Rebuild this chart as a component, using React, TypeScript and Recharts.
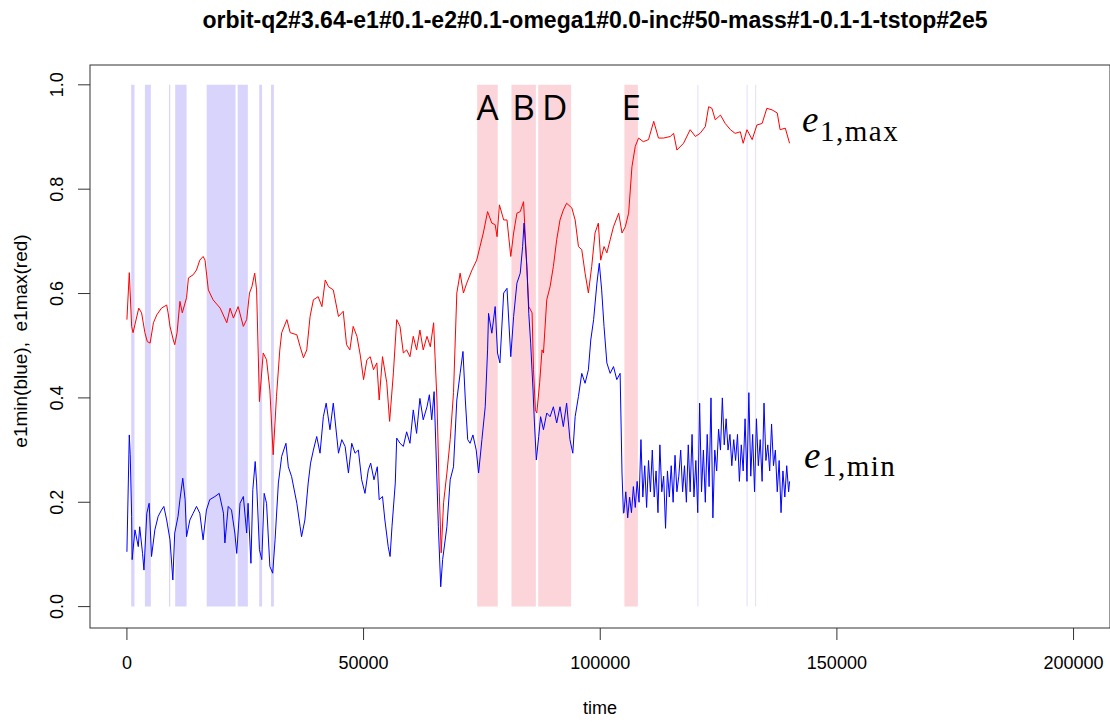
import React from 'react';
import {
  LineChart,
  Line,
  XAxis,
  YAxis,
  ReferenceArea,
} from 'recharts';

// sample times and values for e1max (red)
const maxT = [
  0, 500, 1000, 1300, 2500, 3100, 3800, 4300, 4900, 5600, 6300, 7300, 8400, 8700, 9100, 9800,
  10100, 10600, 11200, 11700, 12600, 13000, 14000, 14700, 15400, 16100, 16500, 17200, 18200,
  19700, 21100, 21800, 22500, 23500, 24600, 25300, 25900, 26400, 27000, 27400, 28000, 28800,
  29500, 30200, 30900, 31600, 32300, 32700, 33800, 34500, 35900, 36600, 37300, 38000, 38700,
  39400, 40400, 41200, 41900, 42600, 43600, 44700, 45700, 46400, 47100, 47800, 48600, 49300,
  50000, 50700, 51400, 52100, 52800, 53300, 54000, 54900, 55500, 56300, 57000, 57700, 58400,
  59100, 59800, 60500, 61200, 61900, 62600, 63400, 64100, 64800, 65100, 65500, 66000, 66400,
  66900, 67600, 68300, 69000, 69300, 69700, 70400, 71100, 71800, 72900, 73900, 74600, 75300,
  76200, 77100, 77800, 78200, 78700, 79600, 80300, 81100, 81700, 82400, 83100, 83800, 84100,
  84900, 85600, 85900, 86300, 86600, 87200, 87700, 88000, 88700, 89400, 90100, 90800, 91500,
  92200, 92900, 94000, 94700, 95400, 96100, 96800, 97500, 98200, 98900, 99600, 100100, 100800,
  101400, 102100, 102800, 103900, 104600, 105300, 106000, 106700, 107400, 108100, 109100,
  110200, 111300, 112300, 113400, 114800, 115500, 116200, 117600, 119000, 120100, 121100,
  122200, 122900, 123600, 124300, 125400, 126400, 127500, 128500, 129600, 130200, 131000,
  132100, 133100, 134200, 135200, 136300, 137400, 138000, 139100, 140000,
];
const maxV = [
  0.55, 0.64, 0.537, 0.525, 0.572, 0.563, 0.525, 0.508, 0.505, 0.544, 0.559, 0.572, 0.578, 0.563,
  0.537, 0.511, 0.502, 0.525, 0.585, 0.563, 0.592, 0.63, 0.636, 0.645, 0.664, 0.671, 0.664, 0.607,
  0.588, 0.572, 0.544, 0.572, 0.553, 0.575, 0.537, 0.55, 0.601, 0.613, 0.639, 0.607, 0.393, 0.486,
  0.473, 0.415, 0.291, 0.403, 0.492, 0.525, 0.55, 0.525, 0.521, 0.498, 0.477, 0.492, 0.556,
  0.588, 0.594, 0.575, 0.626, 0.613, 0.607, 0.556, 0.566, 0.502, 0.492, 0.537, 0.518, 0.482,
  0.435, 0.473, 0.479, 0.454, 0.467, 0.396, 0.479, 0.429, 0.355, 0.448, 0.55, 0.537, 0.486,
  0.492, 0.479, 0.518, 0.492, 0.53, 0.492, 0.518, 0.498, 0.544, 0.479, 0.396, 0.218, 0.103,
  0.199, 0.256, 0.32, 0.41, 0.492, 0.601, 0.639, 0.601, 0.62, 0.645, 0.664, 0.69, 0.716,
  0.757, 0.735, 0.732, 0.709, 0.77, 0.741, 0.741, 0.671, 0.716, 0.754, 0.757, 0.776, 0.722,
  0.575, 0.563, 0.454, 0.377, 0.371, 0.429, 0.492, 0.486, 0.588, 0.613, 0.652, 0.703, 0.741,
  0.76, 0.773, 0.764, 0.741, 0.69, 0.684, 0.639, 0.601, 0.652, 0.716, 0.735, 0.664, 0.69,
  0.678, 0.703, 0.728, 0.754, 0.716, 0.728, 0.754, 0.843, 0.882, 0.898, 0.891,
  0.895, 0.93, 0.898, 0.898, 0.901, 0.907, 0.875, 0.888, 0.914, 0.901, 0.907,
  0.92, 0.958, 0.955, 0.933, 0.942, 0.926, 0.914, 0.907, 0.91, 0.888, 0.914,
  0.895, 0.923, 0.926, 0.955, 0.952, 0.946, 0.914, 0.917, 0.888,
];

// sample times and values for e1min (blue)
const minT = [
  0, 500, 700, 1000, 1100, 1700, 2400, 2700, 3300, 3600, 4200, 4700, 5200, 5900, 6600, 7300, 7800,
  8400, 9100, 9700, 10100, 10800, 11200, 11800, 12300, 12600, 13300, 14000, 14700, 15400, 16100,
  16800, 17500, 18600, 19500, 20400, 20700, 21400, 22100, 22800, 23200, 23900, 24600, 25300,
  25600, 26200, 26600, 27100, 27400, 28000, 28500, 29000, 29500, 30200, 30800, 31300, 32000,
  32700, 33600, 34100, 34800, 35900, 36600, 36900, 37600, 38300, 38800, 39400, 40100, 40800,
  41500, 42100, 42900, 43600, 44700, 45400, 46100, 46800, 47500, 48200, 48900, 49600, 50300,
  51000, 51500, 52200, 52900, 53300, 54000, 54500, 55200, 55600, 56000, 56700, 57000, 57700,
  58400, 59100, 59800, 60500, 61200, 61900, 62600, 63400, 63900, 64400, 64900, 65300, 65800,
  66300, 66700, 67600, 68300, 69000, 69700, 70400, 71000, 71500, 72000, 72500, 73100, 73800,
  74300, 75000, 75700, 76200, 76400, 77100, 77800, 78300, 78800, 79600, 80300, 81100, 81700,
  82400, 83100, 83600, 83900, 84500, 84900, 85300, 85800, 86100, 86500, 87000, 87400, 88000,
  88700, 89400, 90100, 90800, 91500, 92200, 92900, 93600, 94200, 94700, 95400, 96100, 96800,
  97500, 98000, 98600, 99300, 99800, 100300, 100800, 101400, 102100, 102800, 103500, 104200,
  104600, 104900, 105000, 105400, 105800, 106200, 106600, 107000, 107400, 107800, 108200,
  108600, 109000, 109400, 109800, 110200, 110600, 111000, 111400, 111800, 112200, 112600,
  113000, 113400, 113800, 114200, 114600, 115000, 115400, 115800, 116200, 116600, 117000,
  117400, 117800, 118200, 118600, 119000, 119400, 119800, 120200, 120600, 121000, 121400,
  121800, 122200, 122600, 123000, 123400, 123800, 124200, 124600, 125000, 125400, 125800,
  126200, 126600, 127000, 127400, 127800, 128200, 128600, 129000, 129400, 129800, 130200,
  130600, 131000, 131400, 131800, 132200, 132600, 133000, 133400, 133800, 134200, 134600,
  135000, 135400, 135800, 136200, 136600, 137000, 137400, 137800, 138200, 138600, 139000,
  139400, 139800, 140000,
];
const minV = [
  0.105, 0.329, 0.291, 0.173, 0.09, 0.147, 0.115, 0.153, 0.102, 0.07, 0.179, 0.198, 0.096, 0.147,
  0.173, 0.185, 0.192, 0.166, 0.128, 0.051, 0.141, 0.173, 0.205, 0.246, 0.205, 0.134, 0.166,
  0.179, 0.192, 0.179, 0.128, 0.185, 0.205, 0.211, 0.217, 0.179, 0.122, 0.192, 0.185, 0.141,
  0.102, 0.198, 0.211, 0.141, 0.198, 0.083, 0.224, 0.278, 0.237, 0.109, 0.09, 0.217, 0.198,
  0.077, 0.064, 0.128, 0.237, 0.288, 0.313, 0.268, 0.249, 0.198, 0.153, 0.134, 0.166, 0.237,
  0.275, 0.3, 0.326, 0.294, 0.364, 0.39, 0.339, 0.39, 0.294, 0.32, 0.307, 0.256, 0.313, 0.294,
  0.3, 0.243, 0.217, 0.262, 0.275, 0.243, 0.268, 0.205, 0.211, 0.166, 0.115, 0.096, 0.153,
  0.237, 0.323, 0.313, 0.307, 0.335, 0.313, 0.377, 0.332, 0.399, 0.358, 0.383, 0.406, 0.358,
  0.412, 0.3, 0.153, 0.038, 0.09, 0.153, 0.243, 0.268, 0.396, 0.447, 0.489, 0.396, 0.32,
  0.313, 0.329, 0.3, 0.256, 0.32, 0.383, 0.492, 0.562, 0.524, 0.575, 0.486, 0.467, 0.601,
  0.61, 0.479, 0.556, 0.62, 0.639, 0.69, 0.735, 0.652, 0.562, 0.505, 0.415, 0.352, 0.281,
  0.326, 0.364, 0.339, 0.371, 0.364, 0.383, 0.352, 0.383, 0.345, 0.39, 0.32, 0.294, 0.364,
  0.403, 0.447, 0.428, 0.454, 0.511, 0.55, 0.62, 0.658, 0.607, 0.537, 0.467, 0.447, 0.46,
  0.435, 0.447, 0.256, 0.179, 0.18, 0.22, 0.17, 0.21, 0.18, 0.23, 0.19, 0.24, 0.2, 0.32, 0.21,
  0.27, 0.19, 0.28, 0.22, 0.3, 0.21, 0.26, 0.18, 0.31, 0.22, 0.25, 0.15, 0.26, 0.21, 0.27, 0.2,
  0.29, 0.22, 0.25, 0.3, 0.22, 0.27, 0.2, 0.31, 0.22, 0.33, 0.21, 0.28, 0.18, 0.39, 0.22, 0.3,
  0.2, 0.33, 0.23, 0.4, 0.17, 0.3, 0.26, 0.34, 0.3, 0.4, 0.31, 0.36, 0.3, 0.33, 0.27, 0.32,
  0.28, 0.33, 0.24, 0.31, 0.26, 0.36, 0.24, 0.41, 0.25, 0.33, 0.22, 0.36, 0.27, 0.32, 0.24,
  0.39, 0.28, 0.31, 0.26, 0.35, 0.27, 0.3, 0.22, 0.28, 0.18, 0.26, 0.21, 0.27, 0.22, 0.24,
];

// shaded time windows
const blueStart = [900, 3800, 8900, 10200, 16850, 23400, 27950, 30450];
const blueEnd = [1600, 5050, 9150, 12600, 22950, 25550, 28550, 31050];
const faintStart = [120500, 130900, 132700];
const faintEnd = [120750, 131150, 132950];
const pinkStart = [74000, 81250, 86900, 105100];
const pinkEnd = [78350, 86400, 93850, 107950];
const pinkLabels = ['A', 'B', 'D', 'E'];

const xTicks = [0, 50000, 100000, 150000, 200000];
const yTicks = [0, 0.2, 0.4, 0.6, 0.8, 1.0];

const maxData = maxT.map((t, i) => ({ t, v: maxV[i] }));
const minData = minT.map((t, i) => ({ t, v: minV[i] }));

const SANS = 'Liberation Sans, Arial, sans-serif';
const SERIF = 'Liberation Serif, Times New Roman, serif';

const YTick = (props: any) => {
  const { x, y, payload } = props;
  return (
    <text
      x={x}
      y={y}
      transform={`rotate(-90 ${x} ${y})`}
      textAnchor='middle'
      fontSize={18}
      fontFamily={SANS}
      fill='#000'
    >
      {Number(payload.value).toFixed(1)}
    </text>
  );
};

const XTick = (props: any) => {
  const { x, y, payload } = props;
  return (
    <text x={x} y={y + 13} textAnchor='middle' fontSize={18} fontFamily={SANS} fill='#000'>
      {payload.value}
    </text>
  );
};

export default function App() {
  return (
    <div style={{ position: 'absolute', left: 0, top: 0, background: '#fff' }}>
      <LineChart
        width={1110}
        height={722}
        margin={{ top: 65, right: 0, bottom: 54, left: 30 }}
      >
        <XAxis
          type='number'
          dataKey='t'
          domain={[-7800, 207700]}
          ticks={xTicks}
          allowDataOverflow
          axisLine={false}
          tickSize={12}
          tickLine={{ stroke: '#333' }}
          tickMargin={16}
          tick={<XTick />}
          height={40}
        />
        <YAxis
          type='number'
          domain={[-0.041, 1.038]}
          ticks={yTicks}
          allowDataOverflow
          axisLine={false}
          tickSize={12}
          tickLine={{ stroke: '#333' }}
          tickMargin={15}
          tick={<YTick />}
          width={60}
        />
        {blueStart.map((s, i) => (
          <ReferenceArea
            key={'b' + i}
            x1={s}
            x2={blueEnd[i]}
            y1={0}
            y2={1}
            fill='#d9d4fb'
            fillOpacity={1}
            stroke='none'
          />
        ))}
        {faintStart.map((s, i) => (
          <ReferenceArea
            key={'f' + i}
            x1={s}
            x2={faintEnd[i]}
            y1={0}
            y2={1}
            fill='#e6e3fb'
            fillOpacity={1}
            stroke='none'
          />
        ))}
        {pinkStart.map((s, i) => (
          <ReferenceArea
            key={'p' + i}
            x1={s}
            x2={pinkEnd[i]}
            y1={0}
            y2={1}
            fill='#fcd5db'
            fillOpacity={1}
            stroke='none'
            label={{
              value: pinkLabels[i],
              position: 'insideTop',
              offset: 10,
              fontSize: 35,
              fill: '#000',
              fontFamily: 'Open Sans, sans-serif',
            }}
          />
        ))}
        <Line
          data={maxData}
          dataKey='v'
          stroke='#ff0000'
          strokeWidth={1}
          dot={false}
          isAnimationActive={false}
        />
        <Line
          data={minData}
          dataKey='v'
          stroke='#0000ff'
          strokeWidth={1}
          dot={false}
          isAnimationActive={false}
        />
        <rect x={90} y={65} width={1020} height={563} fill='none' stroke='#333' />
        <text x={595} y={28} textAnchor='middle' fontSize={23} fontWeight='bold' fontFamily={SANS}>
          orbit-q2#3.64-e1#0.1-e2#0.1-omega1#0.0-inc#50-mass#1-0.1-1-tstop#2e5
        </text>
        <text x={600} y={714} textAnchor='middle' fontSize={18} fontFamily={SANS}>
          time
        </text>
        <text
          x={27}
          y={341}
          transform='rotate(-90 27 341)'
          textAnchor='middle'
          fontSize={19}
          fontFamily={SANS}
        >
          {'e1min(blue),\u00a0 e1max(red)'}
        </text>
        <text x={802} y={132} fontSize={37} fontStyle='italic' fontFamily={SERIF}>
          e
        </text>
        <text x={820} y={141} fontSize={29} letterSpacing={1.5} fontFamily={SERIF}>
          1,max
        </text>
        <text x={804} y={468} fontSize={37} fontStyle='italic' fontFamily={SERIF}>
          e
        </text>
        <text x={822} y={476} fontSize={29} letterSpacing={1.5} fontFamily={SERIF}>
          1,min
        </text>
      </LineChart>
    </div>
  );
}
